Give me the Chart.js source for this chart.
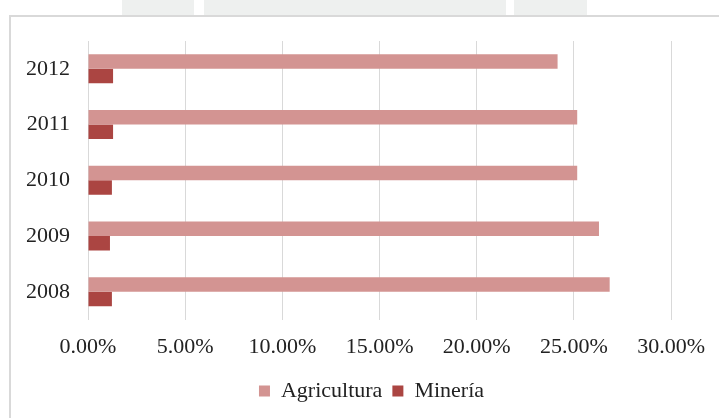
<!DOCTYPE html>
<html>
<head>
<meta charset="utf-8">
<script src="https://cdn.jsdelivr.net/npm/chart.js@4"></script>
<style>
  html, body { margin: 0; padding: 0; background: #ffffff; }
  body { width: 719px; height: 418px; position: relative; overflow: hidden; }
  .tab { position: absolute; top: 0; height: 15px; background: #eef0ef; }
  #frame {
    position: absolute; left: 9px; top: 15px; width: 720px; height: 410px;
    border-left: 2px solid #d9d9d9; border-top: 2px solid #d9d9d9;
  }
  #wrap { position: absolute; left: 0; top: 0; width: 719px; height: 418px; }
</style>
</head>
<body>
<div class="tab" style="left:122px;width:72px"></div>
<div class="tab" style="left:204px;width:302px"></div>
<div class="tab" style="left:514px;width:73px"></div>
<div id="frame"></div>
<div id="wrap"><canvas id="chart" width="719" height="418"></canvas></div>
<script>
// years, top to bottom as in the picture
const years = ['2012', '2011', '2010', '2009', '2008'];
// share of each sector (%)
const agricultura = [24.16, 25.17, 25.17, 26.29, 26.84];
const mineria = [1.29, 1.29, 1.23, 1.13, 1.23];
const xTicks = [0, 5, 10, 15, 20, 25, 30];

const serif = '"Liberation Serif", "Times New Roman", serif';

// the original legend sits a bit right of the canvas centre
const legendShift = {
    id: 'legendShift',
    afterLayout(chart) {
        if (chart.legend) {
            chart.legend.left += 23.5;
            chart.legend.right += 23.5;
        }
    }
};

const ctx = document.getElementById('chart').getContext('2d');

new Chart(ctx, {
    type: 'bar',
    data: {
        labels: years,
        datasets: [
            {
                label: 'Agricultura',
                data: agricultura,
                backgroundColor: '#d39492',
                borderWidth: 0
            },
            {
                label: 'Minería',
                data: mineria,
                backgroundColor: '#ab4542',
                borderWidth: 0
            }
        ]
    },
    plugins: [legendShift],
    options: {
        indexAxis: 'y',
        responsive: false,
        animation: false,
        datasets: {
            bar: {
                categoryPercentage: 0.52,
                barPercentage: 1.0
            }
        },
        layout: {
            padding: { top: 41, left: 24, right: 47, bottom: 6 }
        },
        plugins: {
            tooltip: { enabled: false },
            legend: {
                position: 'bottom',
                labels: {
                    boxWidth: 11,
                    boxHeight: 11,
                    padding: 10,
                    color: '#222222',
                    font: { family: serif, size: 22 }
                }
            }
        },
        scales: {
            x: {
                min: xTicks[0],
                max: xTicks[xTicks.length - 1],
                afterBuildTicks: (scale) => {
                    scale.ticks = xTicks.map(v => ({ value: v }));
                },
                afterFit: (scale) => {
                    scale.height -= 4;
                },
                grid: {
                    color: '#d9d9d9',
                    lineWidth: 1,
                    drawTicks: false
                },
                border: { display: false },
                ticks: {
                    padding: 14,
                    color: '#222222',
                    font: { family: serif, size: 22 },
                    maxRotation: 0,
                    callback: (v) => Number(v).toFixed(2) + '%'
                }
            },
            y: {
                afterFit: (scale) => {
                    scale.width = 64;
                },
                grid: { display: false, drawTicks: false },
                border: { display: false },
                ticks: {
                    padding: 18,
                    color: '#222222',
                    font: { family: serif, size: 22 }
                }
            }
        }
    }
});
</script>
</body>
</html>
